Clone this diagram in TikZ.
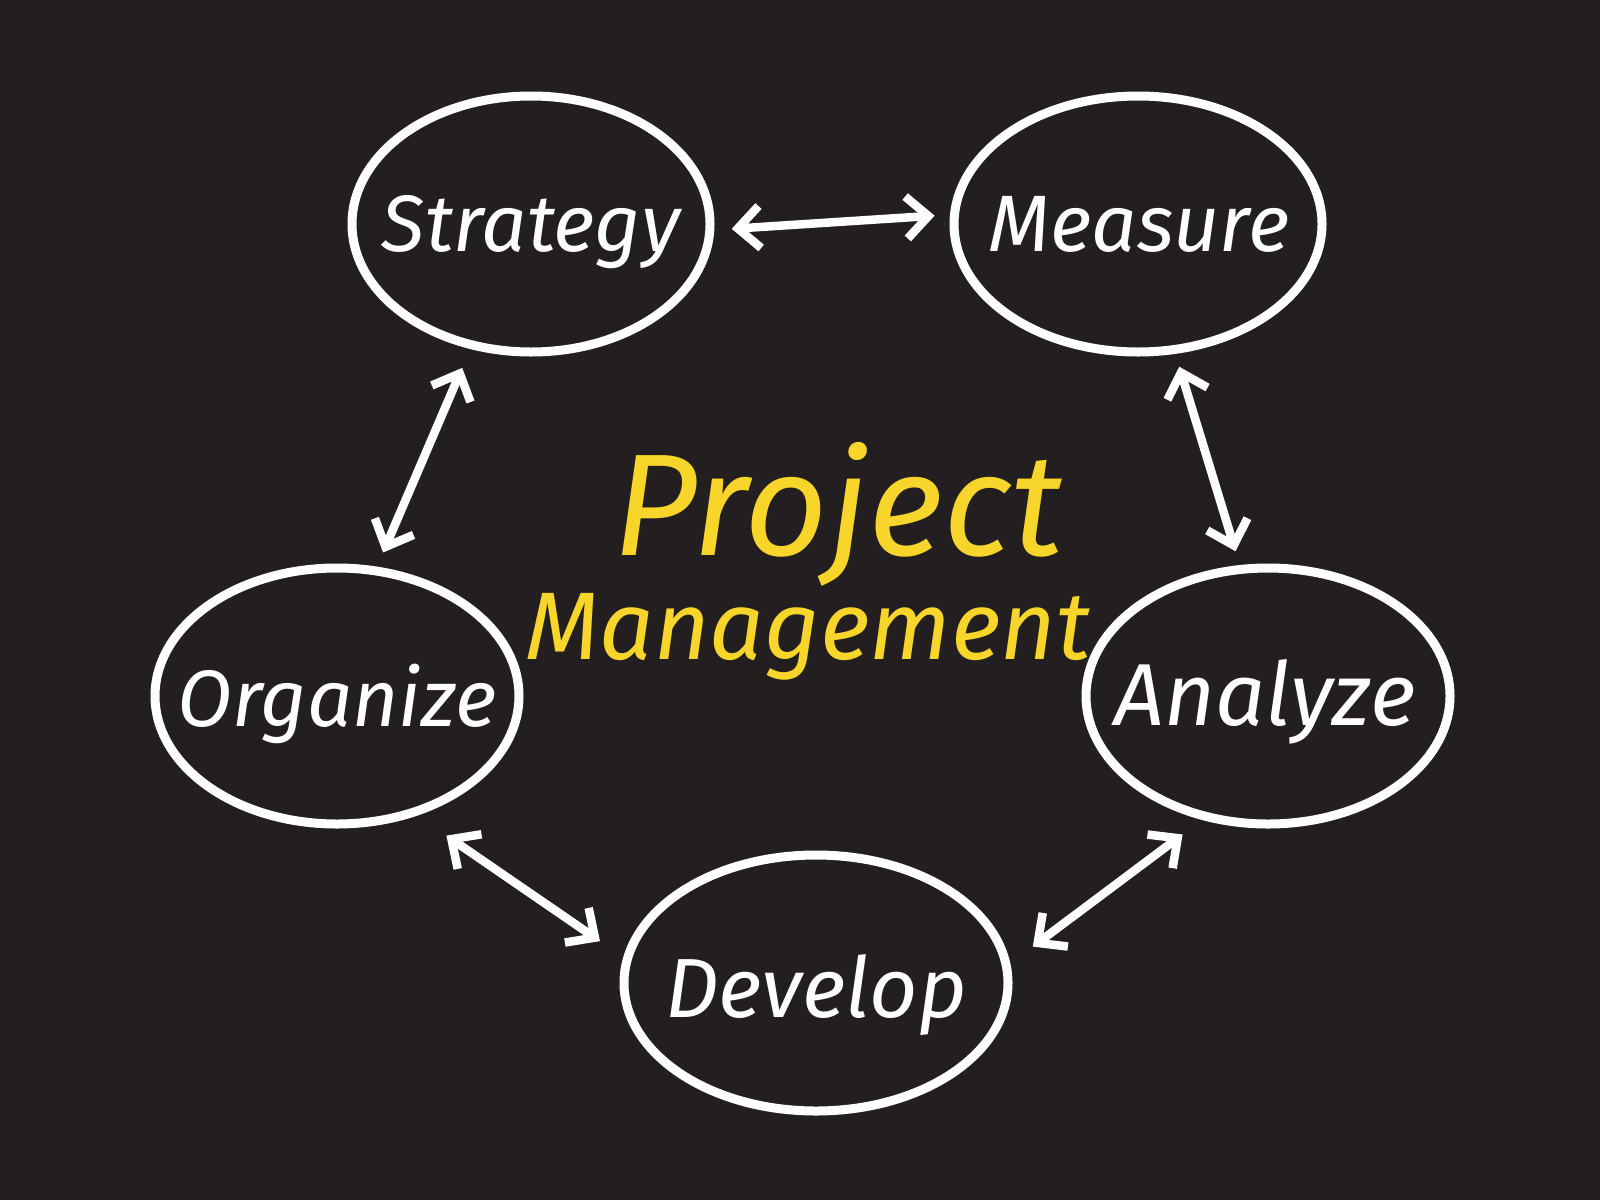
\documentclass[tikz,border=0pt]{standalone}
\usepackage{fontspec}
\setmainfont{Fira Sans}
\usetikzlibrary{arrows.meta,shapes.geometric}
\definecolor{board}{HTML}{231F20}
\definecolor{chalkyellow}{HTML}{F7D52A}
\begin{document}
\begin{tikzpicture}[x=1pt,y=-1pt,
  bubble/.style={ellipse,draw=white,line width=9pt,minimum height=256pt,inner sep=0pt,outer sep=0pt},
  word/.style={text=white,font=\fontsize{80}{90}\selectfont\itshape,inner sep=0pt},
  title/.style={text=chalkyellow,inner sep=0pt},
  dbl/.style={draw=white,line width=8.5pt,line cap=round,
    {Straight Barb[length=22pt,width=42pt]}-{Straight Barb[length=22pt,width=42pt]}}
]
\fill[board] (0,0) rectangle (1600,1200);
\useasboundingbox (0,0) rectangle (1600,1200);

\node[bubble,minimum width=358pt] (S) at (531,224) {};
\node[bubble,minimum width=368pt] (M) at (1138,224) {};
\node[bubble,minimum width=364pt] (O) at (337,696) {};
\node[bubble,minimum width=364pt] (A) at (1268,696) {};
\node[bubble,minimum width=384pt] (D) at (816,983) {};

\node[word] (St) at (531,232) {Strategy};
\node[word] (Mt) at (1139,224) {Measure};
\node[word] (Ot) at (337,704) {Organize};
\node[word,font=\fontsize{88}{96}\selectfont\itshape] (At) at (1265,702) {Analyze};
\node[word,font=\fontsize{84}{92}\selectfont\itshape] (Dt) at (816,995) {Develop};

\node[title,font=\fontsize{145}{150}\selectfont\itshape] (P1) at (838,514) {Project};
\node[title,font=\fontsize{96}{100}\selectfont\itshape] (P2) at (808,637) {Management};

\draw[dbl,shorten <=22pt,shorten >=20pt] (S.-2.5) -- (M.177.2);
\draw[dbl,shorten <=25pt,shorten >=20pt] (S.-116.7) -- (O.73.5);
\draw[dbl,shorten <=18pt,shorten >=19pt] (M.-74) -- (A.102.1);
\draw[dbl,shorten <=41pt,shorten >=33pt] (O.-57.3) -- (D.173.8);
\draw[dbl,shorten <=33pt,shorten >=30pt] (D.5.6) -- (A.-117.3);
\end{tikzpicture}
\end{document}
